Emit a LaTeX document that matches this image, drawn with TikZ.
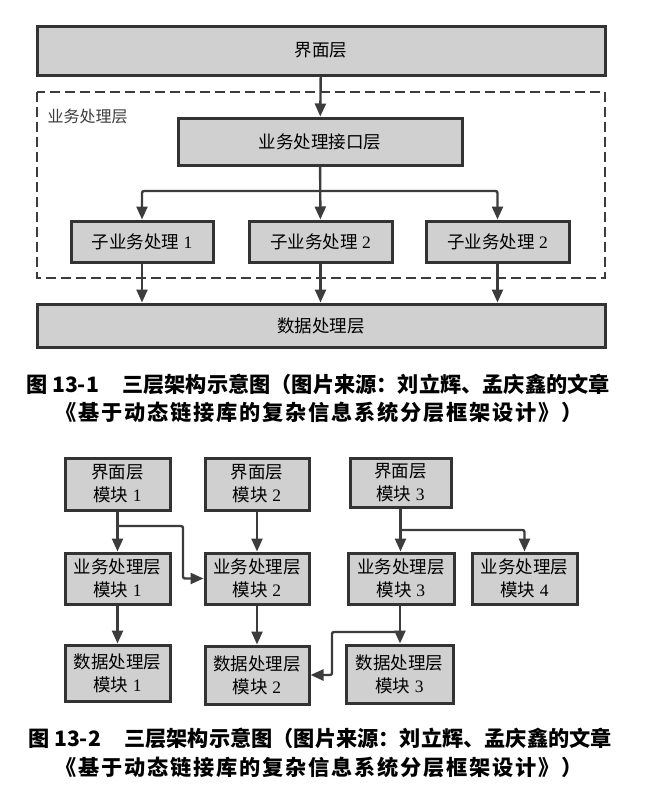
\documentclass[tikz,border=0pt]{standalone}
\usepackage{fontspec}
\usepackage{xcolor}
\usetikzlibrary{arrows.meta,positioning,calc}
\setmainfont{Liberation Serif}
\newfontfamily\cjk{Noto Sans CJK SC}
\definecolor{boxfill}{HTML}{D0D0D0}
\definecolor{boxline}{HTML}{333333}
\definecolor{arrline}{HTML}{3C3C3C}
\newcommand{\zh}[1]{{\cjk #1}}
\newcommand{\layerbox}[5]{
  \node[layer,minimum width=#3,minimum height=#4] (#1) at #2 {#5};
}

\begin{document}
\begin{tikzpicture}[x=1pt,y=-1pt,>={Triangle[length=13pt,width=11pt]},
  layer/.style={draw=boxline,fill=boxfill,line width=3pt,inner sep=0pt,
    align=center,font=\fontsize{17.5}{23}\selectfont},
  arr/.style={->,draw=arrline,line width=2.4pt},
  caption/.style={font=\cjk\bfseries\fontsize{21.2}{24}\selectfont},
  wide/.style={font=\cjk\bfseries\fontsize{21.2}{24}\selectfont\addfontfeature{LetterSpace=8.5}}]
  \useasboundingbox (0,0) rectangle (646,795);
  % figure 13-1
  \layerbox{ui}{(321,50.5)}{568pt}{49pt}{\zh{界面层}}
  \draw[draw=arrline,line width=2.5pt,dash pattern=on 10pt off 5pt] (37,92) rectangle (605,278);
  \node[anchor=west,text=arrline,font=\cjk\fontsize{16}{18}\selectfont] (bizlabel) at (44,116) {业务处理层};
  \layerbox{api}{(320,141.5)}{284pt}{47pt}{\zh{业务处理接口层}}
  \layerbox{sub1}{(142,241.5)}{142pt}{41pt}{\zh{子业务处理} 1}
  \layerbox{sub2}{(320.5,241.5)}{143pt}{41pt}{\zh{子业务处理} 2}
  \layerbox{sub3}{(497.5,241.5)}{143pt}{41pt}{\zh{子业务处理} 2}
  \layerbox{data}{(321,325.5)}{568pt}{43pt}{\zh{数据处理层}}
  \coordinate (split) at (320,191);
  \draw[arr] (ui) -- (api);
  \draw[arr] (api) -- (sub2);
  \draw[arr,rounded corners=2pt] (split) -| (sub1);
  \draw[arr,rounded corners=2pt] (split) -| (sub3);
  \foreach \s in {sub1,sub2,sub3}
    \draw[arr] (\s) -- (\s |- data.north);
  \node[caption] (cap1a) at (318,384) {图 13-1\hspace{1.1em}三层架构示意图（图片来源：刘立辉、孟庆鑫的文章};
  \node[wide] (cap1b) at (319,412) {《基于动态链接库的复杂信息系统分层框架设计》）};
  % figure 13-2
  \layerbox{ui1}{(117.5,484)}{105pt}{52pt}{\zh{界面层}\\\zh{模块} 1}
  \layerbox{ui2}{(257,484)}{104pt}{52pt}{\zh{界面层}\\\zh{模块} 2}
  \layerbox{ui3}{(400.5,482.5)}{101pt}{49pt}{\zh{界面层}\\\zh{模块} 3}
  \layerbox{biz1}{(117.5,578.5)}{105pt}{51pt}{\zh{业务处理层}\\\zh{模块} 1}
  \layerbox{biz2}{(257,578.5)}{104pt}{51pt}{\zh{业务处理层}\\\zh{模块} 2}
  \layerbox{biz3}{(401,578.5)}{106pt}{51pt}{\zh{业务处理层}\\\zh{模块} 3}
  \layerbox{biz4}{(524.5,578.5)}{105pt}{51pt}{\zh{业务处理层}\\\zh{模块} 4}
  \layerbox{dat1}{(117.5,673)}{105pt}{56pt}{\zh{数据处理层}\\\zh{模块} 1}
  \layerbox{dat2}{(257,675)}{104pt}{58pt}{\zh{数据处理层}\\\zh{模块} 2}
  \layerbox{dat3}{(399.5,674)}{107pt}{58pt}{\zh{数据处理层}\\\zh{模块} 3}
  \coordinate (fork1) at (117.5,526);
  \coordinate (bend1) at (183,526);
  \coordinate (fork3) at (400.5,530);
  \coordinate (fork5) at (400,632);
  \coordinate (bend5) at (332,632);
  \draw[arr] (ui1) -- (biz1);
  \draw[arr,rounded corners=2pt] (fork1) -- (bend1) |- (biz2.west);
  \draw[arr] (ui2) -- (biz2);
  \draw[arr] (ui3) -- (ui3 |- biz3.north);
  \draw[arr,rounded corners=2pt] (fork3) -| (biz4);
  \draw[arr] (biz1) -- (dat1);
  \draw[arr] (biz2) -- (dat2);
  \draw[arr] (biz3.south -| fork5) -- (fork5 |- dat3.north);
  \draw[arr,rounded corners=2pt] (fork5) -- (bend5) |- (dat2.east);
  \node[caption] (cap2a) at (320,738) {图 13-2\hspace{1.1em}三层架构示意图（图片来源：刘立辉、孟庆鑫的文章};
  \node[wide] (cap2b) at (319,767) {《基于动态链接库的复杂信息系统分层框架设计》）};
\end{tikzpicture}
\end{document}
